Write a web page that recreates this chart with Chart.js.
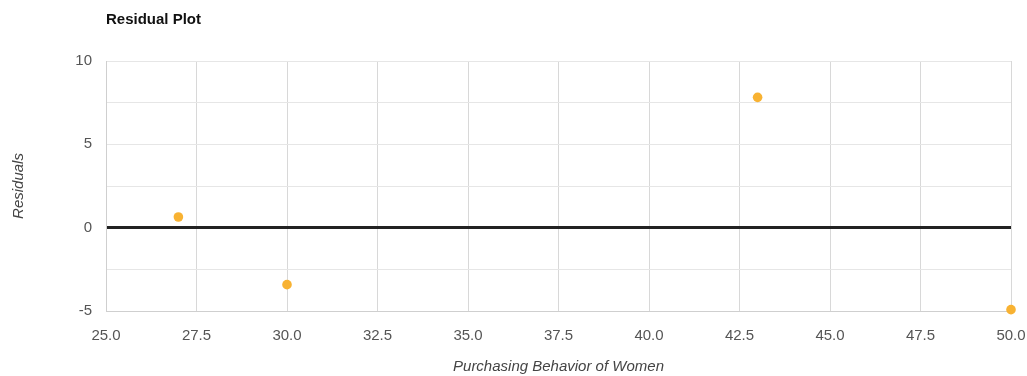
<!DOCTYPE html>
<html>
<head>
<meta charset="utf-8">
<script src="https://cdn.jsdelivr.net/npm/chart.js@4/dist/chart.umd.min.js"></script>
<style>
html,body{margin:0;padding:0;background:#fff;}
#wrap{position:relative;width:1027px;height:376px;}
</style>
</head>
<body>
<div id="wrap"><canvas id="c" width="1027" height="376"></canvas></div>
<script>
const chartTitle = "Residual Plot";
const xTitle = "Purchasing Behavior of Women";
const yTitle = "Residuals";
const xValues = [27, 30, 43, 50];
const residuals = [0.64, -3.42, 7.82, -4.92];
const xMin = 25, xMax = 50, xStep = 2.5;
const yMin = -5, yMax = 10, yStep = 2.5;
const yLabelValues = [-5, 0, 5, 10];

const points = xValues.map((x, i) => ({x: x, y: residuals[i]}));
const FONT = '"Liberation Sans", Arial, sans-serif';

const titlePlugin = {
  id: 'leftTitle',
  afterDraw(chart) {
    const ctx = chart.ctx;
    ctx.save();
    ctx.font = 'bold 15px ' + FONT;
    ctx.fillStyle = '#111';
    ctx.textAlign = 'left';
    ctx.textBaseline = 'middle';
    ctx.fillText(chartTitle, chart.chartArea.left, 20);
    ctx.restore();
  }
};

new Chart(document.getElementById('c'), {
  type: 'scatter',
  data: {
    datasets: [{
      data: points,
      backgroundColor: '#F8B232',
      borderColor: '#F8B232',
      pointRadius: 4.8,
      pointHoverRadius: 4.8,
      borderWidth: 0,
      clip: false
    }]
  },
  options: {
    responsive: false,
    animation: false,
    layout: {padding: {top: 61, right: 0, left: 0, bottom: 0}},
    plugins: {legend: {display: false}, tooltip: {enabled: false}, title: {display: false}},
    scales: {
      x: {
        type: 'linear',
        min: xMin, max: xMax,
        afterFit(s) { s.height = 65; s.paddingRight = 16; },
        ticks: {
          stepSize: xStep,
          color: '#555',
          padding: 16,
          font: {family: FONT, size: 15},
          callback: v => Number(v).toFixed(1)
        },
        grid: {color: '#d8d8d8', lineWidth: 1, drawTicks: false},
        border: {color: '#cfcfcf'},
        title: {
          display: true, text: xTitle, color: '#444',
          font: {family: FONT, size: 15, style: 'italic'},
          padding: {top: 0, bottom: 0}
        }
      },
      y: {
        type: 'linear',
        min: yMin, max: yMax,
        afterFit(s) { s.width = 106; },
        ticks: {
          stepSize: yStep,
          color: '#555',
          padding: 14,
          font: {family: FONT, size: 15},
          callback: v => yLabelValues.includes(v) ? String(v) : ''
        },
        grid: {
          drawTicks: false,
          color: ctx => (ctx.tick && ctx.tick.value === 0) ? '#222' : '#e6e6e6',
          lineWidth: ctx => (ctx.tick && ctx.tick.value === 0) ? 3 : 1
        },
        border: {color: '#cfcfcf'},
        title: {
          display: true, text: yTitle, color: '#444',
          font: {family: FONT, size: 15, style: 'italic'},
          padding: {top: 10, bottom: 0}
        }
      }
    }
  },
  plugins: [titlePlugin]
});
</script>
</body>
</html>
